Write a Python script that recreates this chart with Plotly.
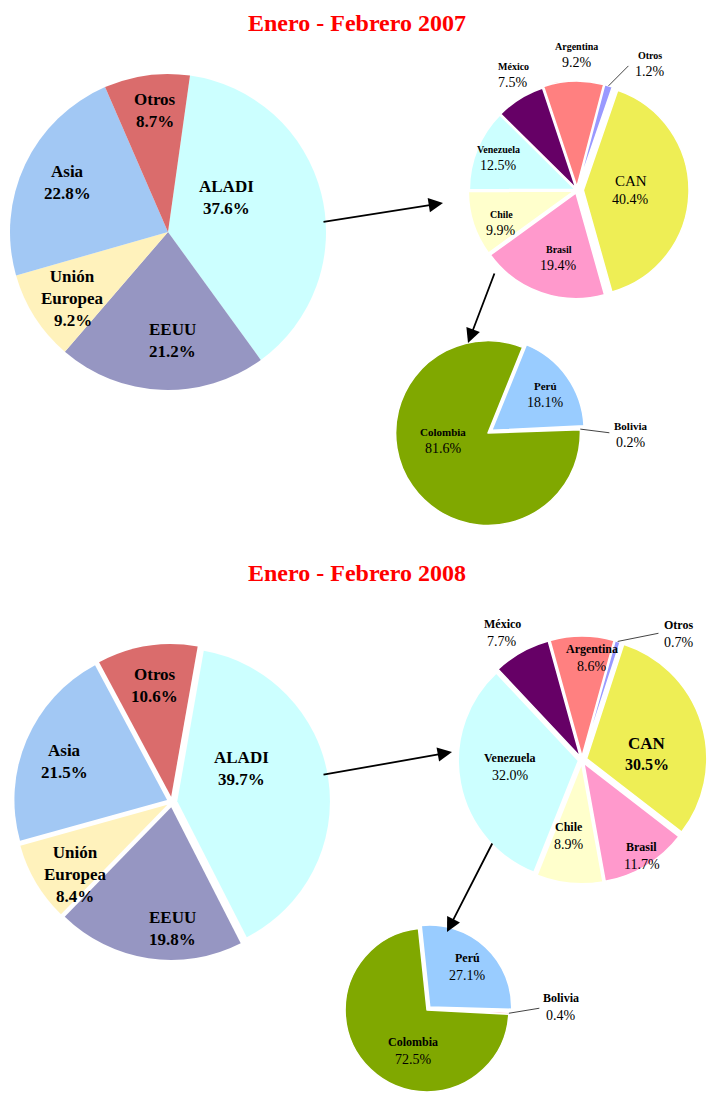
import math
import plotly.graph_objects as go

W, H = 707, 1096

# ---- data ----
main_labels = ["ALADI", "EEUU", "Unión<br>Europea", "Asia", "Otros"]
main_2007 = [37.6, 21.2, 9.2, 22.8, 8.7]
main_2008 = [39.7, 19.8, 8.4, 21.5, 10.6]

aladi_labels = ["CAN", "Brasil", "Chile", "Venezuela", "México", "Argentina", "Otros"]
aladi_2007 = [40.4, 19.4, 9.9, 12.5, 7.5, 9.2, 1.2]
aladi_2008 = [30.5, 11.7, 8.9, 32.0, 7.7, 8.6, 0.7]

can_labels = ["Perú", "Bolivia", "Colombia"]
can_2007 = [18.1, 0.2, 81.6]
can_2008 = [27.1, 0.4, 72.5]

titles = ["Enero - Febrero 2007", "Enero - Febrero 2008"]

# ---- styles ----
FONT = "Liberation Serif"
main_colors = ["#CCFFFF", "#9696C2", "#FFF2BC", "#A2C8F4", "#DA6C6C"]
aladi_colors = ["#EEEE55", "#FF99CC", "#FFFFCC", "#CCFFFF", "#660066", "#FF8080", "#9999FF"]
can_colors = ["#99CCFF", "#FF8080", "#80A800"]

# pie geometry: center (px), half-size of domain (px), rotation, pulls;
# lab = (radius fraction, angle offset) of each label relative to its slice mid-angle
pies = [
    dict(labels=main_labels, values=main_2007, colors=main_colors, c=(168, 232), half=158, rot=8,
         pull=[0, 0, 0, 0, 0], lw=0,
         lab=[(.43, -16), (.69, -5), (.78, -6.8), (.71, .6), (.77, 1.6)],
         name=(17, True), pct=(17, True), special={}, leader={}),
    dict(labels=main_labels, values=main_2008, colors=main_colors, c=(172, 802), half=158, rot=10,
         pull=[0.035] * 5, lw=0,
         lab=[(.5, -16.7), (.83, -8.6), (.84, -10.4), (.75, -2.7), (.77, .7)],
         name=(17, True), pct=(17, True), special={}, leader={}),
    dict(labels=aladi_labels, values=aladi_2007, colors=aladi_colors, c=(577, 190), half=112, rot=19,
         pull=[0.06, 0.03, 0.03, 0.02, 0.02, 0.03, 0.03], lw=1.5,
         lab=[(.51, -.7), (.66, -4), (.78, -4.7), (.81, .8), (1.25, 3), (1.29, 1.7), (1.39, 13)],
         name=(10, True), pct=(14, False), special={0: ((15, False), (14, False))},
         leader={6: (1.03, 0, 1.29, 6)}),
    dict(labels=aladi_labels, values=aladi_2008, colors=aladi_colors, c=(582, 760), half=125, rot=18,
         pull=[0.04, 0.03, 0.03, 0.03, 0.03, 0.03, 0.03], lw=1.5,
         lab=[(.54, 12.7), (.94, -.7), (.64, 3.9), (.6, 5), (1.25, -2.7), (.85, 5.6), (1.32, 20.8)],
         name=(12, True), pct=(14, False), special={0: ((17, True), (16, True))},
         leader={6: (1.03, 0, 1.24, 14.8)}),
    dict(labels=can_labels, values=can_2007, colors=can_colors, c=(488, 433), half=97, rot=22,
         pull=[0.05, 0, 0], lw=1.5,
         lab=[(.75, 1), (1.55, 2.8), (.49, 26)],
         name=(11, True), pct=(14, False), special={}, leader={1: (1.0, 0, 1.33, 2.4)}),
    dict(labels=can_labels, values=can_2008, colors=can_colors, c=(427, 1010), half=86, rot=-6,
         pull=[0.05, 0, 0], lw=1.5,
         lab=[(.72, 0), (1.64, -3.6), (.53, -25)],
         name=(12, True), pct=(14, False), special={}, leader={1: (1.0, 0, 1.39, -3.3)}),
]


def dom(cx, cy, half):
    x0, x1 = (cx - half) / W, (cx + half) / W
    y0, y1 = 1 - (cy + half) / H, 1 - (cy - half) / H
    return dict(x=[max(0, x0), min(1, x1)], y=[max(0, y0), min(1, y1)])


def px2paper(x, y):
    return x / W, 1 - y / H


fig = go.Figure()
annotations = []

for p in pies:
    cx, cy = p["c"]
    d = dom(cx, cy, p["half"])
    fig.add_trace(go.Pie(
        labels=p["labels"], values=p["values"], sort=False, direction="clockwise",
        rotation=p["rot"], pull=p["pull"], domain=d,
        marker=dict(colors=p["colors"], line=dict(color="white", width=p["lw"])),
        textinfo="none", hoverinfo="label+value", showlegend=False,
    ))
    # actual radius & center as plotly computes them
    wpx = (d["x"][1] - d["x"][0]) * W
    hpx = (d["y"][1] - d["y"][0]) * H
    r = min(wpx, hpx) / (2 + 2 * max(p["pull"]))
    pcx = (d["x"][0] + d["x"][1]) / 2 * W
    pcy = (1 - (d["y"][0] + d["y"][1]) / 2) * H
    k = 360.0 / sum(p["values"])
    cum = 0.0
    for i, (lab, v) in enumerate(zip(p["labels"], p["values"])):
        mid = p["rot"] + (cum + v / 2) * k
        cum += v
        rf, da = p["lab"][i]
        a = math.radians(mid + da)
        lx, ly = pcx + rf * r * math.sin(a), pcy - rf * r * math.cos(a)
        (ns, nb), (ps, pb) = p["special"].get(i, (p["name"], p["pct"]))
        X, Y = px2paper(lx, ly)
        ntxt = "<b>%s</b>" % lab if nb else lab
        ptxt = "%.1f%%" % v
        ptxt = "<b>%s</b>" % ptxt if pb else ptxt
        annotations.append(dict(text=ntxt, x=X, y=Y, xref="paper", yref="paper", showarrow=False,
                                xanchor="center", yanchor="bottom", yshift=0,
                                font=dict(family=FONT, size=ns, color="black")))
        annotations.append(dict(text=ptxt, x=X, y=Y, xref="paper", yref="paper", showarrow=False,
                                xanchor="center", yanchor="top", yshift=1,
                                font=dict(family=FONT, size=ps, color="black")))
        if i in p["leader"]:
            r0, d0, r1, d1 = p["leader"][i]
            a0, a1 = math.radians(mid + d0), math.radians(mid + d1)
            x0, y0 = pcx + r0 * r * math.sin(a0), pcy - r0 * r * math.cos(a0)
            x1, y1 = pcx + r1 * r * math.sin(a1), pcy - r1 * r * math.cos(a1)
            HX, HY = px2paper(x0, y0)
            annotations.append(dict(text="", x=HX, y=HY, xref="paper", yref="paper",
                                    ax=x1 - x0, ay=y1 - y0, showarrow=True, arrowhead=0,
                                    arrowwidth=1, arrowcolor="#444444"))

for t, ypx in zip(titles, [23, 573]):
    X, Y = px2paper(357, ypx)
    annotations.append(dict(text="<b>%s</b>" % t, x=X, y=Y, xref="paper", yref="paper",
                            showarrow=False, xanchor="center", yanchor="middle",
                            font=dict(family=FONT, size=24, color="#FF0000")))

# arrows: (head_x, head_y, tail_x, tail_y) in pixels
arrows = [(443, 203, 322, 222), (468, 343, 495, 272), (452, 752, 322, 775), (447, 932, 493, 842)]
for hx, hy, tx, ty in arrows:
    X, Y = px2paper(hx, hy)
    annotations.append(dict(x=X, y=Y, xref="paper", yref="paper",
                            ax=tx - hx, ay=ty - hy, text="", showarrow=True,
                            arrowhead=2, arrowsize=1.6, arrowwidth=1.8, arrowcolor="black"))

fig.update_layout(
    width=W, height=H, margin=dict(l=0, r=0, t=0, b=0),
    paper_bgcolor="white", plot_bgcolor="white",
    annotations=annotations, showlegend=False,
)

fig.write_html("out.html", config={"displayModeBar": False},
               post_script="document.body.style.margin='0';")
